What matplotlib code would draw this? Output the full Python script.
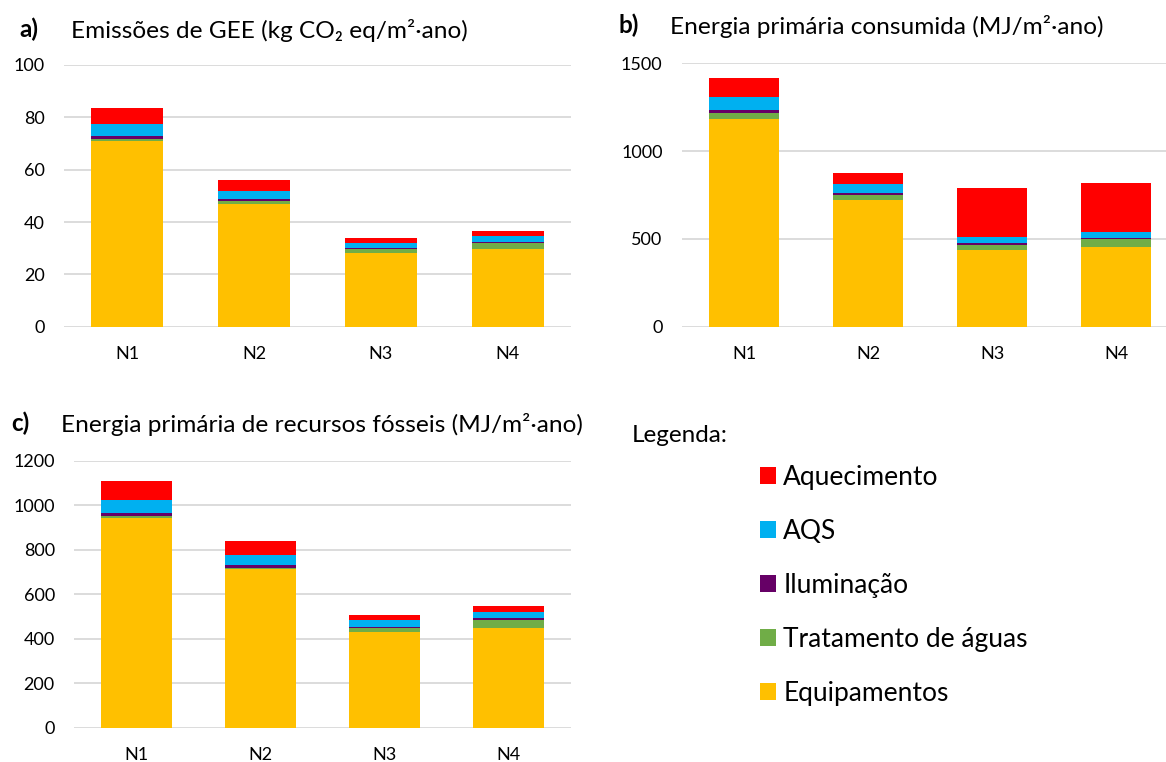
import numpy as np
import matplotlib
matplotlib.use('Agg')
import matplotlib.pyplot as plt
from matplotlib.patches import Patch

plt.rcParams['font.family'] = ['Lato', 'DejaVu Sans']

categorias = ['N1', 'N2', 'N3', 'N4']
series = ['Equipamentos', 'Tratamento de águas', 'Iluminação', 'AQS', 'Aquecimento']
cores = ['#FFC000', '#70AD47', '#660066', '#00B0F0', '#FF0000']

# a) Emissoes de GEE (kg CO2 eq/m2.ano)
gee_equip = [71.0, 47.0, 28.2, 29.8]
gee_trat = [0.7, 1.0, 1.5, 2.2]
gee_ilum = [1.2, 0.8, 0.5, 0.4]
gee_aqs = [4.4, 2.9, 1.8, 2.2]
gee_aquec = [6.4, 4.2, 1.9, 1.8]

# b) Energia primaria consumida (MJ/m2.ano)
ep_equip = [1183, 722, 434, 455]
ep_trat = [33, 29, 34, 44]
ep_ilum = [19, 13, 10, 7]
ep_aqs = [75, 51, 30, 33]
ep_aquec = [107, 63, 281, 281]

# c) Energia primaria de recursos fosseis (MJ/m2.ano)
ef_equip = [941, 713, 430, 449]
ef_trat = [9, 6, 18, 36]
ef_ilum = [13, 13, 6, 6]
ef_aqs = [62, 45, 30, 30]
ef_aquec = [84, 62, 22, 24]

W, H = 1166, 762
fig = plt.figure(figsize=(W / 100, H / 100), dpi=100)


def px_axes(x0, x1, ytop, ybot):
    return fig.add_axes([x0 / W, 1 - ybot / H, (x1 - x0) / W, (ybot - ytop) / H])


def stacked(ax, dados, ymax, passo):
    x = np.arange(len(categorias))
    base = np.zeros(len(categorias))
    for vals, cor in zip(dados, cores):
        ax.bar(x, vals, 0.57, bottom=base, color=cor, edgecolor='none', zorder=3)
        base += np.array(vals)
    ax.set_xlim(-0.5, len(categorias) - 0.5)
    ax.set_ylim(0, ymax)
    ax.set_yticks(np.arange(0, ymax + 1, passo))
    ax.set_xticks(x)
    ax.set_xticklabels(categorias)
    ax.grid(axis='y', color='#D9D9D9', lw=1.3, zorder=0)
    for s in ax.spines.values():
        s.set_visible(False)
    ax.tick_params(length=0, labelsize=13, pad=14, colors='black')


ax_a = px_axes(64, 571, 65, 326.7)
stacked(ax_a, [gee_equip, gee_trat, gee_ilum, gee_aqs, gee_aquec], 100, 20)

ax_b = px_axes(682, 1178, 63.3, 326.7)
stacked(ax_b, [ep_equip, ep_trat, ep_ilum, ep_aqs, ep_aquec], 1500, 500)

ax_c = px_axes(74.2, 570.9, 460.7, 727.5)
stacked(ax_c, [ef_equip, ef_trat, ef_ilum, ef_aqs, ef_aquec], 1200, 200)

# titulos
def titulo(letra, xl, xt, yb, texto):
    fig.text(xl / W, 1 - yb / H, letra, fontsize=17.5, fontweight='bold', va='baseline')
    fig.text(xt / W, 1 - yb / H, texto, fontsize=17.6, va='baseline')


titulo('a)', 19, 71, 37.5, 'Emissões de GEE (kg CO₂ eq/m²·ano)')
titulo('b)', 618, 670, 33.5, 'Energia primária consumida (MJ/m²·ano)')
titulo('c)', 11, 61, 431.5, 'Energia primária de recursos fósseis (MJ/m²·ano)')

fig.text(632 / W, 1 - 441.5 / H, 'Legenda:', fontsize=17.5, va='baseline')

handles = [Patch(facecolor=c, edgecolor='none', label=s) for s, c in zip(series, cores)][::-1]
fig.legend(handles=handles, loc='upper left', bbox_to_anchor=(760 / W, 1 - 465 / H),
           frameon=False, fontsize=19, handlelength=0.61, handleheight=0.61,
           handletextpad=0.27, labelspacing=1.1, borderpad=0, borderaxespad=0)

fig.savefig('out.png', dpi=100)
